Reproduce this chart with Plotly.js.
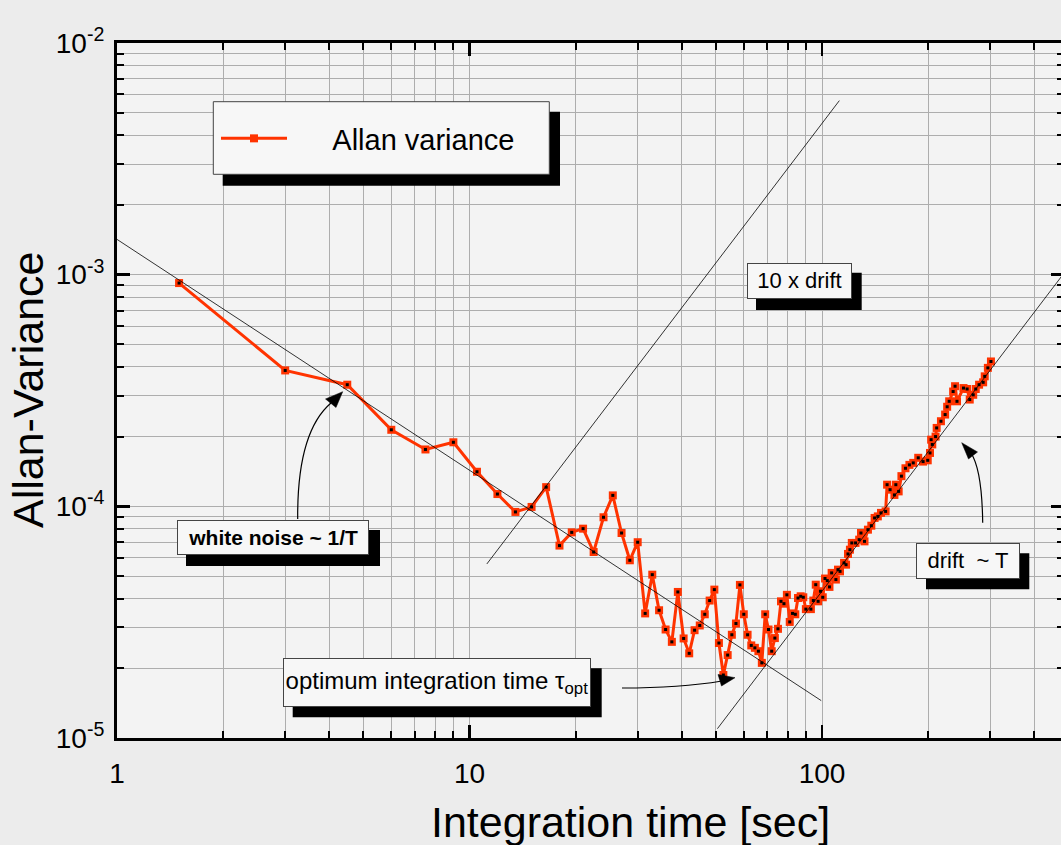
<!DOCTYPE html>
<html><head><meta charset="utf-8">
<script src="https://cdn.plot.ly/plotly-3.0.1.min.js"></script>
<style>html,body{margin:0;padding:0;overflow:hidden;background:#ececec;}</style>
</head><body><div id="chart" style="width:1064px;height:845px;"></div>
<script>
// ---- data ----
const tau = [1.5, 3, 4.5, 6, 7.5, 9, 10.5, 12, 13.5, 15, 16.5, 18, 19.5, 21, 22.5, 24, 25.5, 27, 28.5, 30,
  31.5, 33, 34.5, 36, 37.5, 39, 40.5, 42, 43.5, 45, 46.5, 48, 49.5, 51, 52.5, 54, 55.5, 57, 58.5, 60,
  61.5, 63, 64.5, 66, 67.5, 69, 70.5, 72, 73.5, 75, 76.5, 78, 79.5, 81, 82.5, 84, 85.5, 87, 88.5, 90,
  93, 94.5, 96, 97.5, 99, 100.5, 102, 103.5, 105, 106.5, 109.5, 111, 112.5, 115.5, 117, 118.5, 120, 121.5, 124.5, 127.5,
  129, 132, 135, 138, 141, 144, 147, 151.5, 153, 156, 160.5, 162, 165, 168, 172.5, 177, 181.5, 187.5, 193.5, 199.5,
  202.5, 204, 205.5, 210, 211.5, 217.5, 223.5, 226.5, 229.5, 235.5, 238.5, 241.5, 252, 258, 262.5, 268.5, 273, 279, 286.5, 289.5,
  295.5, 301.5];
const allanVar = [9.2e-4, 3.86e-4, 3.35e-4, 2.14e-4, 1.76e-4, 1.89e-4, 1.41e-4, 1.13e-4, 9.46e-5, 9.94e-5, 1.21e-4, 6.77e-5, 7.72e-5, 8.01e-5, 6.35e-5, 8.97e-5, 1.115e-4, 7.67e-5, 5.85e-5, 7.0e-5,
  3.45e-5, 5.07e-5, 3.56e-5, 2.94e-5, 2.60e-5, 4.27e-5, 2.69e-5, 2.32e-5, 2.92e-5, 3.06e-5, 3.42e-5, 3.92e-5, 4.37e-5, 2.57e-5, 1.87e-5, 2.28e-5, 2.79e-5, 3.12e-5, 4.58e-5, 3.42e-5,
  2.79e-5, 2.51e-5, 2.45e-5, 2.37e-5, 2.11e-5, 3.42e-5, 2.94e-5, 2.37e-5, 2.70e-5, 2.96e-5, 3.89e-5, 3.80e-5, 4.15e-5, 3.17e-5, 3.45e-5, 3.42e-5, 4.02e-5, 4.09e-5, 4.05e-5, 3.60e-5,
  3.60e-5, 3.92e-5, 4.59e-5, 3.89e-5, 4.30e-5, 4.05e-5, 4.88e-5, 4.78e-5, 4.49e-5, 5.16e-5, 4.83e-5, 5.33e-5, 5.24e-5, 5.70e-5, 5.60e-5, 6.23e-5, 6.50e-5, 6.95e-5, 6.95e-5, 7.18e-5,
  7.67e-5, 7.06e-5, 7.93e-5, 8.25e-5, 8.91e-5, 9.05e-5, 9.37e-5, 9.51e-5, 1.24e-4, 1.18e-4, 1.12e-4, 1.24e-4, 1.16e-4, 1.35e-4, 1.46e-4, 1.51e-4, 1.54e-4, 1.62e-4, 1.56e-4, 1.58e-4,
  1.70e-4, 1.94e-4, 1.85e-4, 2.00e-4, 2.18e-4, 2.33e-4, 2.49e-4, 2.69e-4, 2.84e-4, 3.13e-4, 3.30e-4, 2.84e-4, 3.24e-4, 3.21e-4, 2.89e-4, 3.03e-4, 3.21e-4, 3.35e-4, 3.43e-4, 3.64e-4,
  3.96e-4, 4.22e-4];

const whiteNoiseX = [1, 99.5];
const whiteNoiseY = [1.42e-3, 1.45e-5];
const driftX = [50.5, 600];
const driftY = [1.097e-5, 1.548e-3];
const drift10X = [11.2, 112];
const drift10Y = [5.64e-5, 5.64e-3];

const xTickVals = [1, 10, 100];
const xTickText = ['1', '10', '100'];
const yTickVals = [1e-2, 1e-3, 1e-4, 1e-5];
const yTickText = ['10<sup>-2</sup>', '10<sup>-3</sup>', '10<sup>-4</sup>', '10<sup>-5</sup>'];
const seriesName = 'Allan variance';
const xTitle = 'Integration time [sec]';
const yTitle = 'Allan-Variance';

// ---- layout helpers (pixel -> paper) ----
const PL = 117, PT = 43, PW = 947, PH = 695;
const fx = p => (p - PL) / PW;
const fy = p => (PT + PH - p) / PH;
const pt = (x, y) => fx(x).toFixed(5) + ',' + fy(y).toFixed(5);

function minorVals(lo, hi) {
  const v = [];
  for (let e = lo; e < hi; e++) for (let d = 2; d <= 9; d++) v.push(d * Math.pow(10, e));
  return v;
}

const FONT = 'Liberation Sans, Arial, sans-serif';
const RED = '#ff3300';

const traces = [
  {x: tau, y: allanVar, name: '\u00a0\u00a0\u00a0\u00a0\u00a0' + seriesName, type: 'scatter', mode: 'lines+markers',
   line: {color: RED, width: 3}, marker: {symbol: 'square', size: 8, color: RED}},
  {x: tau, y: allanVar, type: 'scatter', mode: 'markers', showlegend: false, hoverinfo: 'skip',
   marker: {symbol: 'square', size: 3, color: '#000'}},
  {x: whiteNoiseX, y: whiteNoiseY, type: 'scatter', mode: 'lines', showlegend: false,
   line: {color: '#000', width: 0.8}},
  {x: driftX, y: driftY, type: 'scatter', mode: 'lines', showlegend: false,
   line: {color: '#000', width: 0.8}},
  {x: drift10X, y: drift10Y, type: 'scatter', mode: 'lines', showlegend: false,
   line: {color: '#000', width: 0.8}}
];

function shadow(x0, y0, x1, y1) {
  return {type: 'rect', xref: 'paper', yref: 'paper', x0: fx(x0), x1: fx(x1), y0: fy(y1), y1: fy(y0),
          fillcolor: '#000', line: {width: 0}, layer: 'above'};
}
function box(x0, y0, x1, y1) {
  return {type: 'rect', xref: 'paper', yref: 'paper', x0: fx(x0), x1: fx(x1), y0: fy(y1), y1: fy(y0),
          fillcolor: '#f7f7f7', line: {width: 1, color: '#444'}, layer: 'above'};
}
function curve(p0, c, p1) {
  return {type: 'path', xref: 'paper', yref: 'paper', layer: 'above',
          path: 'M' + pt(p0[0], p0[1]) + ' Q' + pt(c[0], c[1]) + ' ' + pt(p1[0], p1[1]),
          line: {color: '#000', width: 1.2}};
}
function head(a, b, c) {
  return {type: 'path', xref: 'paper', yref: 'paper', layer: 'above',
          path: 'M' + pt(a[0], a[1]) + ' L' + pt(b[0], b[1]) + ' L' + pt(c[0], c[1]) + ' Z',
          fillcolor: '#000', line: {color: '#000', width: 0.5}};
}

const shapes = [
  shadow(222.7, 111.7, 560, 185.7), box(213.3, 101.7, 549.3, 174.3),
  shadow(186, 530, 380, 566),
  shadow(292.7, 668.3, 601.7, 717.3),
  shadow(756, 272.7, 861.7, 310),
  shadow(926, 553.3, 1029.3, 589.3),
  curve([297.7, 519], [297, 432], [331, 403]), head([342.7, 391.7], [325.5, 399], [336, 407.5]),
  curve([622, 688], [680, 688], [722, 681]), head([735, 677.7], [718, 674.5], [721.5, 686]),
  curve([982.7, 522.7], [982, 470], [971, 453]), head([961.7, 442.7], [968.5, 459], [977.5, 452])
];

function label(text, x0, y0, x1, y1, size, bold) {
  return {xref: 'paper', yref: 'paper', x: fx(x0), y: fy(y0), xanchor: 'left', yanchor: 'top',
          showarrow: false, text: bold ? '<b>' + text + '</b>' : text,
          width: x1 - x0 - 2, height: y1 - y0 - 2, align: 'center', valign: 'middle',
          bgcolor: '#f7f7f7', bordercolor: '#444', borderwidth: 1, borderpad: 0,
          font: {family: FONT, size: size, color: '#000'}};
}

const annotations = [
  label('white noise ~ 1/T', 176.7, 520, 369, 555, 21, true),
  label('optimum integration time \u03c4<sub>opt</sub>', 283.3, 657.7, 591, 706.7, 24, false),
  label('10 x drift', 746.7, 262.7, 851.7, 298.3, 22, false),
  label('drift\u00a0\u00a0~ T', 916, 542.7, 1020, 578.3, 22, false),
  {xref: 'paper', yref: 'paper', x: fx(630), y: fy(822), xanchor: 'center', yanchor: 'middle',
   showarrow: false, text: xTitle, font: {family: FONT, size: 43, color: '#000'}},
  {xref: 'paper', yref: 'paper', x: fx(28), y: fy(390), xanchor: 'center', yanchor: 'middle',
   showarrow: false, textangle: -90, text: yTitle, font: {family: FONT, size: 43, color: '#000'}}
];

const axisCommon = {
  type: 'log', showline: true, linecolor: '#000', linewidth: 3, mirror: 'ticks',
  ticks: 'inside', ticklen: 13, tickwidth: 2.5, tickcolor: '#000', tickmode: 'array',
  showgrid: true, gridcolor: '#adadad', gridwidth: 1, zeroline: false,
  tickfont: {family: FONT, size: 28, color: '#000'}
};

const layout = {
  width: 1064, height: 845,
  margin: {l: PL, r: 0, t: PT, b: 845 - PT - PH},
  paper_bgcolor: '#ececec', plot_bgcolor: '#f3f3f3',
  font: {family: FONT, color: '#000'},
  showlegend: true,
  legend: {x: fx(216), y: fy(113), xanchor: 'left', yanchor: 'top', bgcolor: 'rgba(0,0,0,0)',
           borderwidth: 0, font: {family: FONT, size: 29, color: '#000'}, itemwidth: 66},
  xaxis: Object.assign({}, axisCommon, {
    range: [0, PW / 352.5], tickvals: xTickVals, ticktext: xTickText, ticklabelstandoff: 8,
    minor: {tickvals: minorVals(0, 3), ticks: 'inside', ticklen: 7, tickwidth: 2, tickcolor: '#000',
            showgrid: true, gridcolor: '#adadad', gridwidth: 1}
  }),
  yaxis: Object.assign({}, axisCommon, {
    range: [-5, -2], tickvals: yTickVals, ticktext: yTickText, ticklabelstandoff: 4,
    minor: {tickvals: minorVals(-5, -2), ticks: 'inside', ticklen: 7, tickwidth: 2, tickcolor: '#000',
            showgrid: true, gridcolor: '#adadad', gridwidth: 1}
  }),
  shapes: shapes,
  annotations: annotations
};

Plotly.newPlot('chart', traces, layout, {staticPlot: true, displayModeBar: false});
</script></body></html>
